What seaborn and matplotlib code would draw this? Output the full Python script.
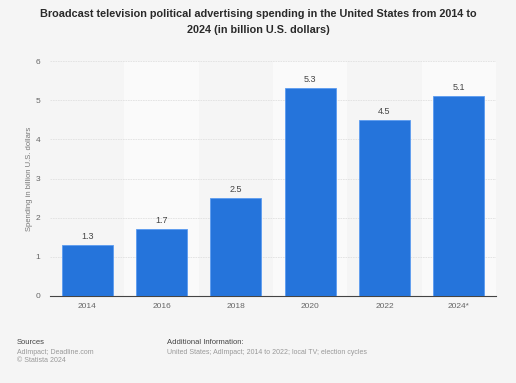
import matplotlib
matplotlib.use("Agg")
import matplotlib.pyplot as plt
import seaborn as sns
import pandas as pd

# Data dari grafik
years = ["2014", "2016", "2018", "2020", "2022", "2024*"]
spending = [1.3, 1.7, 2.5, 5.3, 4.5, 5.1]

df = pd.DataFrame({"year": years, "spending": spending})

sns.set_theme(style="white")
plt.rcParams["font.family"] = ["Liberation Sans", "DejaVu Sans"]

bg = "#f5f5f5"
fig = plt.figure(figsize=(5.16, 3.83), dpi=100, facecolor=bg)
ax = fig.add_axes([50 / 516, 1 - 296 / 383, 446 / 516, 235 / 383])
ax.set_facecolor(bg)

# Pita kolom berselang-seling
for i in range(len(years)):
    if i % 2 == 1:
        ax.axvspan(i - 0.5, i + 0.5, color="#fafafa", zorder=0, lw=0)

sns.barplot(data=df, x="year", y="spending", color="#2574db", width=0.69,
            saturation=1, edgecolor="#5b9bf0", linewidth=0.6, ax=ax, zorder=3)

ax.set_ylim(0, 6)
ax.set_xlim(-0.5, len(years) - 0.5)
ax.set_yticks(range(0, 7))
ax.yaxis.grid(True, color="#e0e0e0", linestyle=(0, (2, 1)), linewidth=0.6)
ax.set_axisbelow(True)

for s in ["top", "right", "left"]:
    ax.spines[s].set_visible(False)
ax.spines["bottom"].set_color("#444444")
ax.spines["bottom"].set_linewidth(0.8)

ax.tick_params(axis="both", length=0, labelsize=6, colors="#666666")
ax.tick_params(axis="x", pad=5)
ax.tick_params(axis="y", pad=7)
ax.set_xlabel("")
ax.set_ylabel("Spending in billion U.S. dollars", fontsize=5.5, color="#777777", labelpad=2)

for c in ax.containers:
    ax.bar_label(c, fmt="%.1f", fontsize=6.5, color="#444444", padding=3)

fig.text(0.5, 1 - 22 / 383, "Broadcast television political advertising spending in the United States from 2014 to\n2024 (in billion U.S. dollars)",
         ha="center", va="center", fontsize=7.8, fontweight="bold", color="#2a2a2a", linespacing=1.75)

fig.text(17 / 516, 1 - 343 / 383, "Sources", fontsize=5.5, color="#444444", va="center")
fig.text(17 / 516, 1 - 352 / 383, "AdImpact; Deadline.com", fontsize=5, color="#999999", va="center")
fig.text(17 / 516, 1 - 360 / 383, "© Statista 2024", fontsize=5, color="#999999", va="center")
fig.text(167 / 516, 1 - 343 / 383, "Additional Information:", fontsize=5.5, color="#444444", va="center")
fig.text(167 / 516, 1 - 352 / 383, "United States; AdImpact; 2014 to 2022; local TV; election cycles", fontsize=5, color="#999999", va="center")

plt.savefig("out.png", dpi=100, facecolor=bg)
plt.close()
